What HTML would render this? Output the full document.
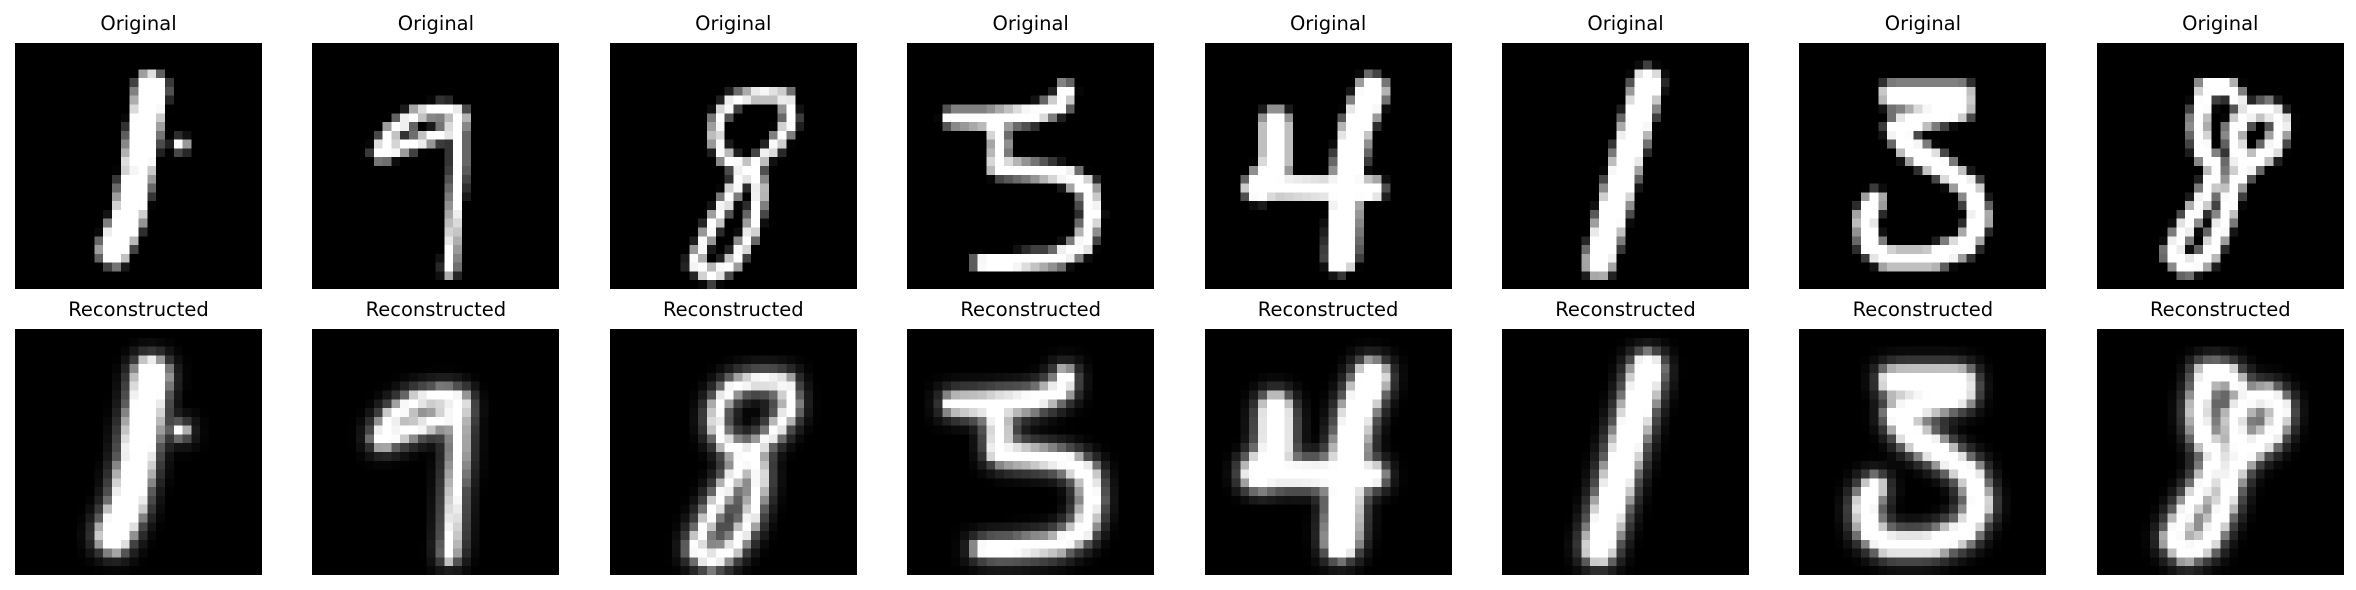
<!DOCTYPE html>
<html><head><meta charset="utf-8"><style>
body{margin:0;width:2356px;height:590px;background:#fff;position:relative;overflow:hidden;font-family:"DejaVu Sans","Liberation Sans",sans-serif;}
.t{position:absolute;font-size:19.5px;color:#000;text-align:center;width:300px;line-height:24px;}
canvas{position:absolute;image-rendering:pixelated;width:247px;height:246px;background:#000;}
</style></head><body>
<script>
// digit strokes in 28x28 pixel grid: [points, width]
const digitLabels = ["1","7","8","5","4","1","3","8"];
const strokes = [
 [[[15.5,5],[14.8,9],[13.8,15],[12.8,20],[11.2,23.5]],3.8],
 [[[7.5,12.5],[9,10],[12,8],[15,7.5],[16.8,8.3],[16.3,9.8],[13.5,10.8],[10.5,11.8],[8,12.8]],1.6],
 [[[14,6.5],[17,5.8],[20,6],[20.5,9],[18.5,12],[15.5,14.5],[13,13],[12,11],[12.3,8.5],[14,6.5]],1.6],
 [[[5,8.5],[9,8.6],[14,8.2],[17.5,7],[18,5.5]],2.2],
 [[[8,9],[8,14],[6,16.5]],3.5],
 [[[16.5,4.5],[11,25]],3.5],
 [[[10.5,6],[18.5,6]],2.8],
 [[[12.5,5],[11.5,9],[12,12.5],[13.5,14],[12.5,17],[10,21],[8.5,24],[10,25.5],[12.5,24.5],[14.5,20],[15.5,16],[17,14],[20,12],[21,9],[19.5,7.5],[17,8],[15.5,10],[16,13]],2.2]
];
const extra = [
 [[[[18.6,11.5],[18.9,11.6]],1.6]],
 [[[[16.6,8],[16.6,14],[16.1,20],[15.6,26]],1.6]],
 [[[[15.5,14.5],[13.5,17.5],[11.5,21],[9.5,25],[11.5,26.5],[14,25],[16,21.5],[17,17],[16.5,14.5]],1.6]],
 [[[[10,9],[10.5,11.5],[10.2,14.2],[14,14.5],[18,15],[20.5,16.5],[21,19.5],[20,23],[17,24.5],[12,25],[8.5,25]],2.2]],
 [[[[6,16.3],[19,16.6]],2.8],[[[19,5.3],[17,10],[16,16],[15.5,24.5]],3.6]],
 [],
 [[[[18.5,7.5],[14,8.5],[11,9.8],[12.5,12],[16,14],[19.5,16.5],[20.5,20],[19,23],[15,24.5],[10,24.5],[8,23],[7.5,20],[8.5,18]],2.6]],
 [[[[12.5,5],[15,5],[16,6.5]],2]]
];
function draw(ctx,list){
 ctx.strokeStyle='#fff';ctx.lineCap='round';ctx.lineJoin='round';
 for(const [pts,w] of list){ctx.lineWidth=w;ctx.beginPath();pts.forEach((p,k)=>k?ctx.lineTo(p[0],p[1]):ctx.moveTo(p[0],p[1]));ctx.stroke();}
}
for(let i=0;i<8;i++){
 const x=15+i*297.4;
 for(let r=0;r<2;r++){
  const t=document.createElement('div');t.className='t';
  
  
  t.style.left=(x+123.5-150)+'px';t.style.top=(r?298:12.3)+'px';
  t.textContent=r?'Reconstructed':'Original';document.body.appendChild(t);
  const c=document.createElement('canvas');c.width=28;c.height=28;
  
  
  c.style.left=x+'px';c.style.top=(r?329:43)+'px';
  const ctx=c.getContext('2d');ctx.fillStyle='#000';ctx.fillRect(0,0,28,28);
  if(r){ctx.filter='blur(1px)';}
  draw(ctx,[strokes[i]].concat(extra[i]));
  if(r){ctx.filter='blur(0.5px)';draw(ctx,[strokes[i]].concat(extra[i]));}
  document.body.appendChild(c);
 }
}
</script>
</body></html>
